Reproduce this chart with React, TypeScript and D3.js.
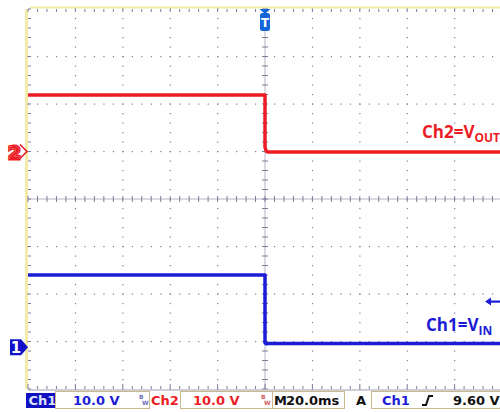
import React from 'react';
import * as d3 from 'd3';

const W = 500;
const H = 412;

// time axis: 20 ms/div, 10 div, trigger in the centre
const timeMs = [-100, 0, 0, 0.6, 1.5, 100];
// Ch1 (V_IN), 10 V/div
const ch1Volts = [15.2, 15.2, 0.9, 0.7, 0.8, 0.8];
// Ch2 (V_OUT), 10 V/div
const ch2Volts = [11.9, 11.9, 0.9, 0.0, -0.1, -0.1];

const voltsPerDiv = [10, 10];
const groundDiv = [-3.12, 1.0]; // ch1, ch2 ground marker positions (div from centre)
const triggerVolts = 9.6;

const statusTexts = {
  ch1: 'Ch1',
  ch1Scale: '10.0 V',
  ch2: 'Ch2',
  ch2Scale: '10.0 V',
  time: '20.0ms',
  trig: '9.60 V',
};

const RED = '#ec1c24';
const BLUE = '#1c1cd6';
const GRID = '#7c7c9c';

export default function App() {
  const x = d3.scaleLinear().domain([-100, 100]).range([28, 502]);
  const y = d3.scaleLinear().domain([-4, 4]).range([389, 9]);
  const yCh = (ch: number) => (v: number) => y(v / voltsPerDiv[ch] + groundDiv[ch]);

  const line1 = d3
    .line<number>()
    .x((_, i) => x(timeMs[i]))
    .y((v) => yCh(0)(v));
  const line2 = d3
    .line<number>()
    .x((_, i) => x(timeMs[i]))
    .y((v) => yCh(1)(v));

  const majorX = d3.range(-100, 101, 20);
  const majorY = d3.range(-4, 5, 1);
  const minorX = d3.range(-100, 100.01, 4);
  const minorY = d3.range(-4, 4.001, 0.2);

  const dots: JSX.Element[] = [];
  majorX.forEach((t) => {
    if (t === 0 || t === -100) return;
    minorY.forEach((d, j) => {
      dots.push(<rect key={`vx${t}_${j}`} x={x(t) - 0.5} y={y(d) - 0.5} width={1.2} height={1.2} fill={GRID} />);
    });
  });
  majorY.forEach((d) => {
    if (d === 0 || d === 4 || d === -4) return;
    minorX.forEach((t, j) => {
      dots.push(<rect key={`hy${d}_${j}`} x={x(t) - 0.5} y={y(d) - 0.5} width={1.2} height={1.2} fill={GRID} />);
    });
  });

  const ticks: JSX.Element[] = [];
  minorX.forEach((t, j) => {
    ticks.push(<line key={`cx${j}`} x1={x(t)} x2={x(t)} y1={y(0) - 3} y2={y(0) + 3} stroke={GRID} strokeWidth={1} />);
    ticks.push(<line key={`tx${j}`} x1={x(t)} x2={x(t)} y1={y(4)} y2={y(4) + 3} stroke={GRID} strokeWidth={1} />);
    ticks.push(<line key={`bx${j}`} x1={x(t)} x2={x(t)} y1={y(-4) - (j % 5 === 0 ? 5 : 3)} y2={y(-4)} stroke={GRID} strokeWidth={1} />);
  });
  minorY.forEach((d, j) => {
    ticks.push(<line key={`cy${j}`} x1={x(0) - 3} x2={x(0) + 3} y1={y(d)} y2={y(d)} stroke={GRID} strokeWidth={1} />);
    ticks.push(<line key={`ly${j}`} x1={x(-100)} x2={x(-100) + 3} y1={y(d)} y2={y(d)} stroke={GRID} strokeWidth={1} />);
  });

  const g1 = yCh(0)(0);
  const g2 = yCh(1)(0);
  const trigY = yCh(0)(triggerVolts);
  const fontFam = 'DejaVu Sans, Verdana, sans-serif';

  return (
    <svg width={W} height={H} style={{ position: 'fixed', left: 0, top: 0, background: '#fff' }}>
      <rect width={W} height={H} fill="#fff" />
      {/* frame */}
      <rect x={25} y={y(4)} width={3} height={y(-4) - y(4)} fill="#f2eca8" />
      <line x1={30} x2={W} y1={y(4) - 1.5} y2={y(4) - 1.5} stroke="#f2eca8" strokeWidth={2} />
      {/* grid */}
      {dots}
      <line x1={x(-100)} x2={x(100)} y1={y(0)} y2={y(0)} stroke={GRID} strokeWidth={0.8} opacity={0.7} />
      <line x1={x(0)} x2={x(0)} y1={y(4)} y2={y(-4)} stroke={GRID} strokeWidth={0.8} opacity={0.7} />
      {ticks}
      <line x1={x(-100)} x2={x(100)} y1={y(-4) + 1} y2={y(-4) + 1} stroke="#9c9cb0" strokeWidth={1} />

      {/* traces */}
      <path d={line2(ch2Volts) || ''} fill="none" stroke={RED} strokeWidth={3.5} strokeLinejoin="round" />
      <path d={line1(ch1Volts) || ''} fill="none" stroke={BLUE} strokeWidth={3.5} strokeLinejoin="round" />

      {/* trigger position marker */}
      <path d={`M${x(0) - 5.5},${y(4)} L${x(0) + 5.5},${y(4)} L${x(0)},${y(4) + 5} Z`} fill="#1466d8" />
      <rect x={x(0) - 5} y={y(4) + 4} width={10} height={18} rx={2.5} fill="#1466d8" />
      <text x={x(0)} y={y(4) + 18} fill="#fff" fontSize={12} fontWeight="bold" textAnchor="middle" fontFamily={fontFam}>T</text>

      {/* trigger level marker */}
      <path d={`M${485},${trigY} L${491},${trigY - 4} L${491},${trigY + 4} Z`} fill={BLUE} />
      <line x1={490} x2={W} y1={trigY} y2={trigY} stroke={BLUE} strokeWidth={2.2} />

      {/* channel ground markers */}
      <path d={`M8,${g2 - 7.5} L21,${g2 - 7.5} L28,${g2} L21,${g2 + 7.5} L8,${g2 + 7.5}`} fill="none" stroke="none" />
      <path d={`M20,${g2 - 7} L27,${g2} L20,${g2 + 7}`} fill="none" stroke={RED} strokeWidth={1.6} />
      <text x={14.5} y={g2 + 7} fill="#fff" stroke={RED} strokeWidth={3} fontSize={18} fontWeight="bold" textAnchor="middle" fontFamily={fontFam} paintOrder="stroke">2</text>
      <text x={14.5} y={g2 + 7} fill={RED} fontSize={18} fontWeight="bold" textAnchor="middle" fontFamily={fontFam}>2</text>
      <path d={`M10,${g1 - 8} L21,${g1 - 8} L28,${g1} L21,${g1 + 8} L10,${g1 + 8} Z`} fill="#1010c8" />
      <text x={16} y={g1 + 6} fill="#fff" fontSize={15} fontWeight="bold" textAnchor="middle" fontFamily={fontFam}>1</text>

      {/* annotations */}
      <text x={422} y={138} fill={RED} fontSize={17} fontWeight="bold" fontFamily="Open Sans, sans-serif">
        Ch2=V<tspan fontSize={12} dy={4}>OUT</tspan>
      </text>
      <text x={426} y={331} fill={BLUE} fontSize={17} fontWeight="bold" fontFamily="Open Sans, sans-serif">
        Ch1=V<tspan fontSize={12} dy={4}>IN</tspan>
      </text>

      {/* status bar */}
      <g fontFamily={fontFam} fontSize={13} fontWeight="bold">
        <rect x={26} y={393} width={29} height={15} fill="#1010c0" />
        <text x={28.5} y={405} fill="#dde4ff">{statusTexts.ch1}</text>
        <rect x={55.5} y={391.5} width={94} height={17} fill="#fff" stroke="#cdb88e" strokeWidth={1} />
        <text x={73} y={405} fill={BLUE}>{statusTexts.ch1Scale}</text>
        <text x={139} y={399} fill="#7070c0" fontSize={6}>B</text>
        <text x={142} y={405} fill="#7070c0" fontSize={6}>W</text>
        <text x={151} y={405} fill={RED}>{statusTexts.ch2}</text>
        <rect x={180.5} y={391.5} width={92} height={17} fill="#fff" stroke="#cdb88e" strokeWidth={1} />
        <text x={193} y={405} fill={RED}>{statusTexts.ch2Scale}</text>
        <text x={261} y={399} fill="#d06060" fontSize={6}>B</text>
        <text x={264} y={405} fill="#d06060" fontSize={6}>W</text>
        <rect x={272.5} y={391.5} width={72} height={17} fill="none" stroke="#cdb88e" strokeWidth={1} />
        <text x={274} y={405} fill="#111">M</text>
        <text x={286} y={405} fill="#111">{statusTexts.time}</text>
        <text x={356} y={405} fill="#111">A</text>
        <rect x={371.5} y={391.5} width={140} height={17} fill="#fff" stroke="#cdb88e" strokeWidth={1} />
        <text x={382} y={405} fill={BLUE}>{statusTexts.ch1}</text>
        <path d="M422,405 L426,405 L429,396 L433,396" fill="none" stroke="#111" strokeWidth={2} />
        <text x={453} y={405} fill="#111">{statusTexts.trig}</text>
      </g>
    </svg>
  );
}
